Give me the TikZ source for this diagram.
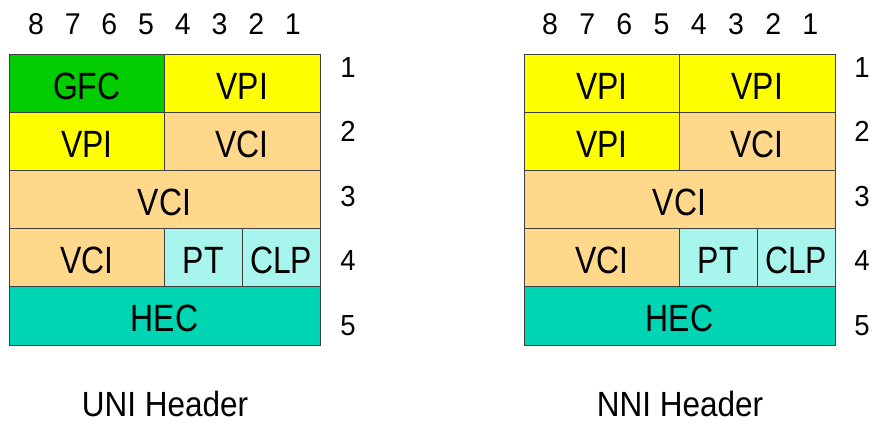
\documentclass[tikz,border=0pt]{standalone}
\usepackage{fontspec}
\setmainfont{Liberation Sans}[FakeStretch=0.84]
\newfontfamily\numfont{Liberation Sans}[FakeStretch=0.95]
\newfontfamily\capfont{Liberation Sans}[FakeStretch=0.9]
\usetikzlibrary{positioning}

\definecolor{gfcgreen}{HTML}{00CC00}
\definecolor{vpiyellow}{HTML}{FFFF00}
\definecolor{vcitan}{HTML}{FFD88C}
\definecolor{ptcyan}{HTML}{A8F5EE}
\definecolor{hecteal}{HTML}{00D5B3}
\definecolor{cellborder}{HTML}{404040}

\tikzset{
    field/.style={draw=cellborder, line width=0.8pt, inner sep=0pt, outer sep=0pt,
        minimum height=58.2pt, anchor=north west, text height=32pt, text depth=0pt,
        font=\fontsize{38}{40}\selectfont},
    half/.style={field, minimum width=155.5pt},
    full/.style={field, minimum width=311pt},
    quarter/.style={field, minimum width=77.75pt},
    bitnum/.style={font=\numfont\fontsize{30}{32}\selectfont, inner sep=0pt, anchor=base},
    octetnum/.style={font=\numfont\fontsize{29}{31}\selectfont, inner sep=0pt, anchor=base},
    caption/.style={font=\capfont\fontsize{35}{37}\selectfont, inner sep=0pt, anchor=base}
}

\begin{document}
\begin{tikzpicture}[x=1pt, y=-1pt]
    \useasboundingbox (0,0) rectangle (872,426);

    % UNI header (left)
    \begin{scope}[shift={(9,0)}]
        \foreach \b [count=\i from 0] in {8,7,6,5,4,3,2,1}
            \node[bitnum] (unibit\b) at (27+36.7*\i, 34) {\b};
        \foreach \r in {1,...,5}
            \node[octetnum] (unirow\r) at (339, 77+64.5*\r-64.5) {\r};

        \node[half, fill=gfcgreen] (uniGFC) at (0, 54) {GFC};
        \node[half, fill=vpiyellow] (uniVPIa) at (155.5, 54) {VPI};
        \node[half, fill=vpiyellow] (uniVPIb) at (0, 112.2) {VPI};
        \node[half, fill=vcitan] (uniVCIa) at (155.5, 112.2) {VCI};
        \node[full, fill=vcitan] (uniVCIb) at (0, 170.4) {VCI};
        \node[half, fill=vcitan] (uniVCIc) at (0, 228.6) {VCI};
        \node[quarter, fill=ptcyan] (uniPT) at (155.5, 228.6) {PT};
        \node[quarter, fill=ptcyan] (uniCLP) at (233.25, 228.6) {CLP};
        \node[full, fill=hecteal] (uniHEC) at (0, 286.8) {HEC};

        \node[caption] (unititle) at (156, 416.5) {UNI Header};
    \end{scope}

    % NNI header (right)
    \begin{scope}[shift={(524,0)}]
        \foreach \b [count=\i from 0] in {8,7,6,5,4,3,2,1}
            \node[bitnum] (nnibit\b) at (26+37.2*\i, 34) {\b};
        \foreach \r in {1,...,5}
            \node[octetnum] (nnirow\r) at (338, 77+64.5*\r-64.5) {\r};

        \node[half, fill=vpiyellow] (nniVPIa) at (0, 54) {VPI};
        \node[half, fill=vpiyellow] (nniVPIb) at (155.5, 54) {VPI};
        \node[half, fill=vpiyellow] (nniVPIc) at (0, 112.2) {VPI};
        \node[half, fill=vcitan] (nniVCIa) at (155.5, 112.2) {VCI};
        \node[full, fill=vcitan] (nniVCIb) at (0, 170.4) {VCI};
        \node[half, fill=vcitan] (nniVCIc) at (0, 228.6) {VCI};
        \node[quarter, fill=ptcyan] (nniPT) at (155.5, 228.6) {PT};
        \node[quarter, fill=ptcyan] (nniCLP) at (233.25, 228.6) {CLP};
        \node[full, fill=hecteal] (nniHEC) at (0, 286.8) {HEC};

        \node[caption] (nnititle) at (156, 416.5) {NNI Header};
    \end{scope}
\end{tikzpicture}
\end{document}
